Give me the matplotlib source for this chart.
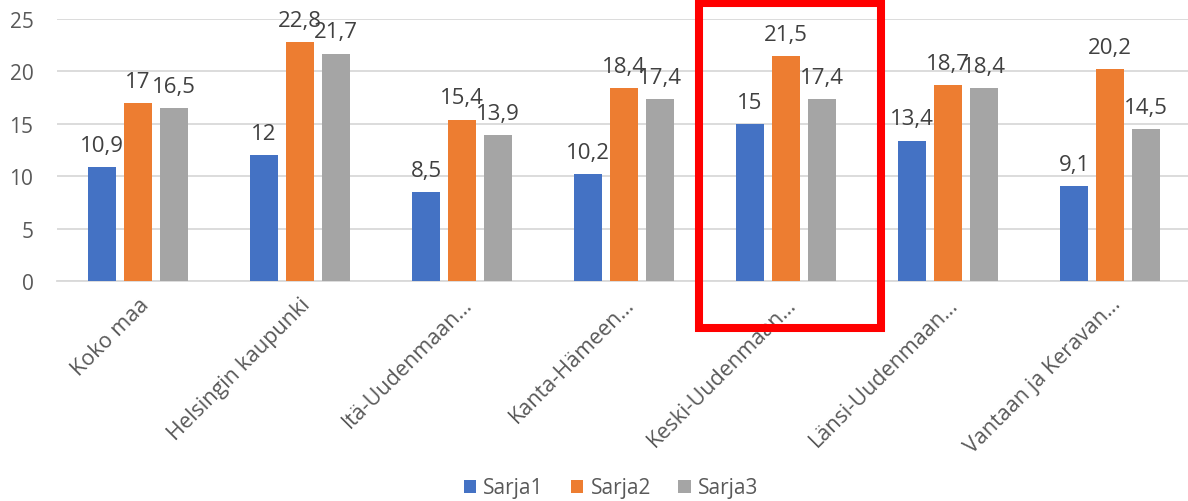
import matplotlib.pyplot as plt
import numpy as np
from matplotlib.patches import Rectangle
from matplotlib.transforms import blended_transform_factory

plt.rcParams['font.family'] = ['Open Sans', 'DejaVu Sans']

categories = ["Koko maa", "Helsingin kaupunki", "Itä-Uudenmaan…", "Kanta-Hämeen…",
              "Keski-Uudenmaan…", "Länsi-Uudenmaan…", "Vantaan ja Keravan…"]
sarja1 = [10.9, 12, 8.5, 10.2, 15, 13.4, 9.1]
sarja2 = [17, 22.8, 15.4, 18.4, 21.5, 18.7, 20.2]
sarja3 = [16.5, 21.7, 13.9, 17.4, 17.4, 18.4, 14.5]
series_names = ["Sarja1", "Sarja2", "Sarja3"]
highlight = 4  # Keski-Uudenmaan group is boxed in red

COLORS = ["#4472C4", "#ED7D31", "#A5A5A5"]
TEXT = "#595959"
LABEL = "#404040"
GRID = "#D9D9D9"

fig = plt.figure(figsize=(11.88, 5.02), dpi=100)
ax = fig.add_axes([57 / 1188, 220 / 502, 1 - 57 / 1188, 262 / 502])

x = np.arange(len(categories))
width = 0.173
step = 0.222
for i, (name, vals, col) in enumerate(zip(series_names, [sarja1, sarja2, sarja3], COLORS)):
    bars = ax.bar(x + (i - 1) * step, vals, width=width, color=col, label=name, zorder=3)
    ax.bar_label(bars, labels=[f"{v:g}".replace(".", ",") for v in vals],
                 padding=8, fontsize=16, color=LABEL)

ax.set_xlim(-0.5, -0.5 + 1131 / 162)
ax.set_ylim(0, 25)
ax.set_yticks(range(0, 26, 5))
ax.yaxis.grid(True, color=GRID, linewidth=1.3, zorder=0)
ax.set_axisbelow(True)
for s in ["top", "right", "left"]:
    ax.spines[s].set_visible(False)
ax.spines["bottom"].set_color(GRID)
ax.spines["bottom"].set_linewidth(1.3)
ax.tick_params(axis="both", length=0, labelsize=15, colors=TEXT)
ax.tick_params(axis="y", pad=17)

ax.set_xticks(x)
ax.set_xticklabels(categories, rotation=45, ha="right", rotation_mode="anchor",
                   fontsize=15.5, color=TEXT)
ax.tick_params(axis="x", pad=9)

# red highlight box (x in data units, y in figure units)
tr = blended_transform_factory(ax.transData, fig.transFigure)
fig.add_artist(Rectangle((highlight - 0.534, (502 - 329) / 502), 1.123, (329 - 3.5) / 502,
                         transform=tr, fill=False, edgecolor="#FF0000", linewidth=5.8,
                         clip_on=False, zorder=10))

fig.legend(loc="center", bbox_to_anchor=(611 / 1188, 1 - 489 / 502), ncol=3, frameon=False,
           fontsize=15, labelcolor=TEXT, handlelength=0.6, handleheight=0.6,
           handletextpad=0.35, columnspacing=1.3)

fig.savefig("out.png", dpi=100, facecolor="white")
